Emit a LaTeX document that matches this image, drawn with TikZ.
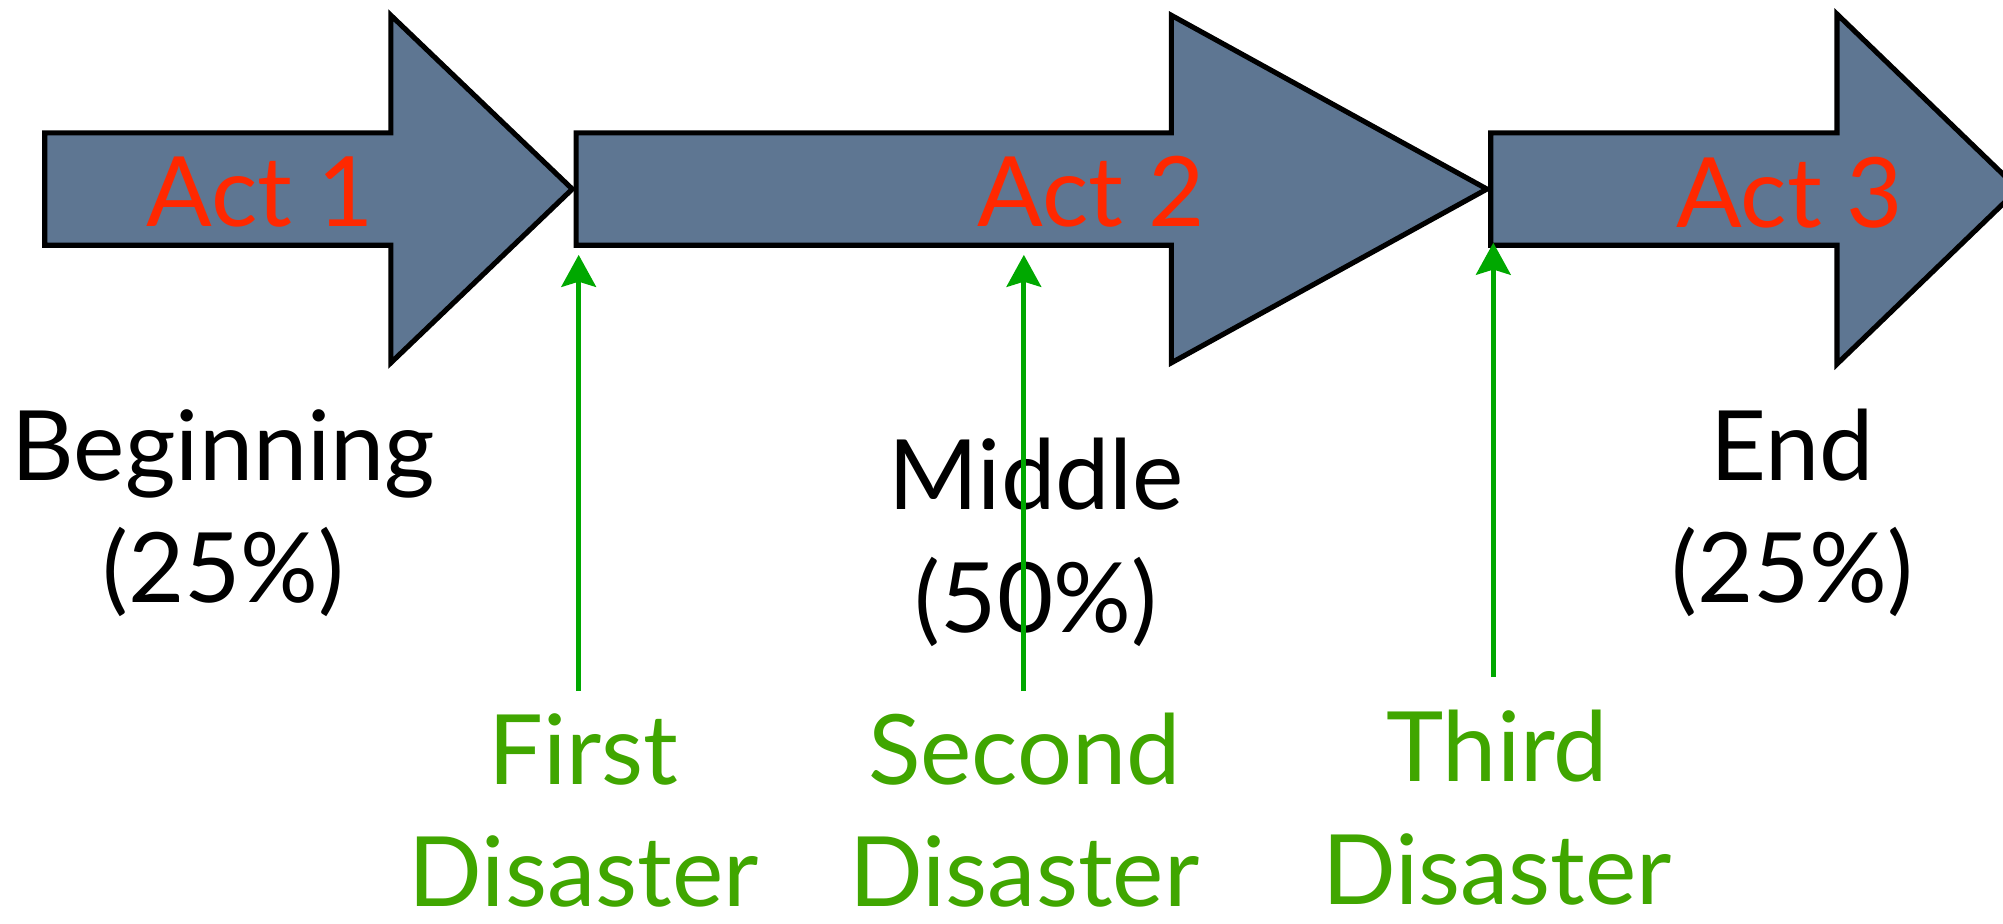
\documentclass[tikz,border=0pt]{standalone}
\usepackage{fontspec}
\setmainfont{Lato}
\usetikzlibrary{arrows.meta}
\definecolor{actblue}{RGB}{94,118,146}
\definecolor{actred}{RGB}{255,40,0}
\definecolor{disgreen}{RGB}{64,166,0}
\definecolor{arrgreen}{RGB}{0,168,0}
\tikzset{
  actarrow/.style={fill=actblue, draw=black, line width=2pt, line join=miter},
  actlabel/.style={text=actred, anchor=base, inner sep=0pt, font=\fontsize{38}{48}\selectfont},
  partlabel/.style={text=black, anchor=base, align=center, inner sep=0pt, font=\fontsize{38}{48}\selectfont},
  dislabel/.style={text=disgreen, anchor=base, align=center, inner sep=0pt, text depth=0pt, font=\fontsize{38}{48}\selectfont},
  pointer/.style={draw=arrgreen, line width=2pt, -{Stealth[length=12.5pt,width=13.5pt,inset=2pt]}}
}
\begin{document}
\begin{tikzpicture}[x=0.5pt,y=-0.5pt]
\useasboundingbox (0,0) rectangle (1568,723);
\begin{scope}
\clip (0,0) rectangle (1568,723);
% arrows
\draw[actarrow] (35,104) -- (306,104) -- (306,12) -- (448,148) -- (306,284) -- (306,192) -- (35,192) -- cycle;
\draw[actarrow] (451,104) -- (917,104) -- (917,12) -- (1164,148) -- (917,284) -- (917,192) -- (451,192) -- cycle;
\draw[actarrow] (1167,104) -- (1438,104) -- (1438,11) -- (1580,148) -- (1438,285) -- (1438,192) -- (1167,192) -- cycle;
\end{scope}
% act labels
\node[actlabel] (act1) at (203.5,177) {Act 1};
\node[actlabel] (act2) at (854,177) {Act 2};
\node[actlabel] (act3) at (1401,178) {Act 3};
% part labels (base anchor = baseline of last line)
\node[partlabel] (beg) at (175,472) {Beginning\\(25\%)};
\node[partlabel] (mid) at (811,495) {Middle\\(50\%)};
\node[partlabel] (end) at (1403,472) {End\\(25\%)};
% disaster labels
\node[dislabel] (d1) at (457,710) {First\\Disaster};
\node[dislabel] (d2) at (802,710) {Second\\Disaster};
\node[dislabel] (d3) at (1172,708) {Third\\Disaster};
% pointer coordinates
\coordinate (p1s) at (453,541);
\coordinate (p1e) at (453,199.5);
\coordinate (p2s) at (801.5,541);
\coordinate (p2e) at (801.5,199.5);
\coordinate (p3s) at (1169,530);
\coordinate (p3e) at (1169,190);
\draw[pointer] (p1s) -- (p1e);
\draw[pointer] (p2s) -- (p2e);
\draw[pointer] (p3s) -- (p3e);
\end{tikzpicture}
\end{document}
